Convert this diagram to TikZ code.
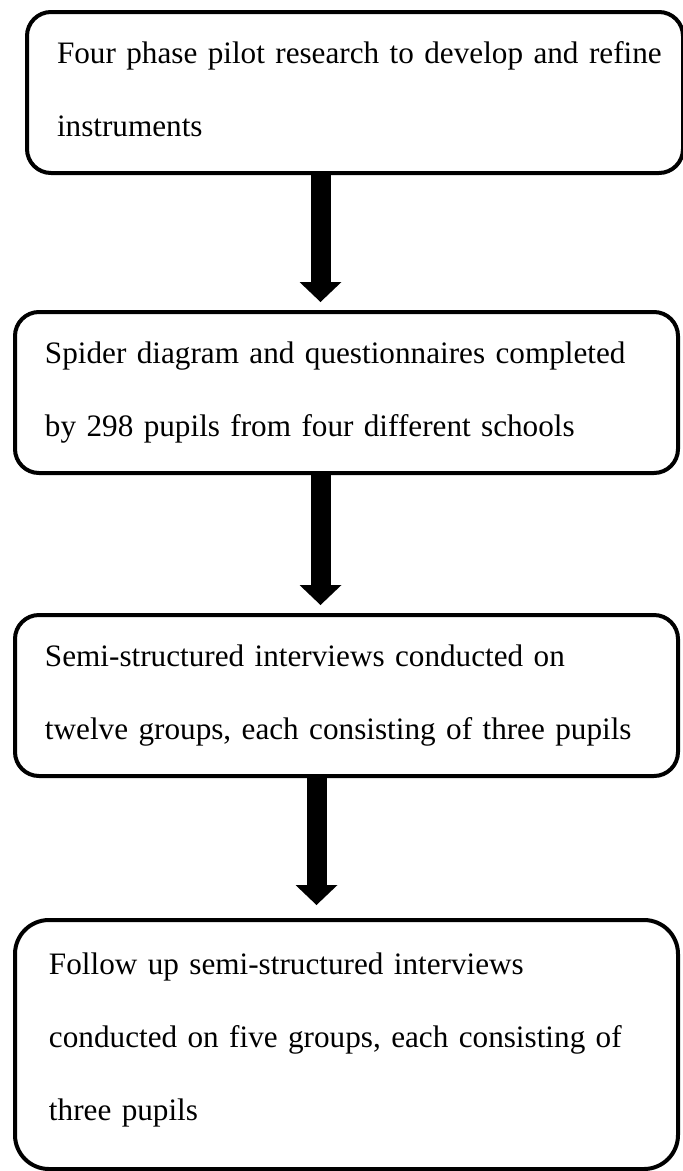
\documentclass[tikz,border=0pt]{standalone}
\usepackage{fontspec}
\setmainfont{Liberation Serif}
\usepackage{tikz}
\usetikzlibrary{arrows.meta}
\newcommand{\stepfont}{\fontsize{31.2}{73}\selectfont}

\begin{document}
\begin{tikzpicture}[x=1pt, y=-1pt,
    every node/.style={font=\stepfont},
    stepbox/.style={draw, line width=4pt, rounded corners=24pt,
                    align=left, inner ysep=0pt, inner xsep=8pt,
                    text width=647pt, text height=22pt, text depth=81pt,
                    execute at begin node={\leftskip=22pt},
                    minimum width=663pt, minimum height=161pt},
    lastbox/.style={stepbox, rounded corners=34pt,
                    execute at begin node={\leftskip=26pt},
                    text depth=162pt, minimum height=249pt},
    arr/.style={-{Triangle[width=42pt, length=20pt, line width=0pt]},
                line width=20pt, shorten >=8pt}]
  \useasboundingbox (0,0) rectangle (683,1171);
  \node[stepbox, minimum width=656pt, text width=640pt]
       (s1) at (355,92.5)   {Four phase pilot research to develop and refine\\instruments};
  \node[stepbox]
       (s2) at (346.5,392.5) {Spider diagram and questionnaires completed\\by 298 pupils from four different schools};
  \node[stepbox]
       (s3) at (346.5,695.5) {Semi-structured interviews conducted on\\twelve groups, each consisting of three pupils};
  \node[lastbox]
       (s4) at (346.5,1044.5) {Follow up semi-structured interviews\\conducted on five groups, each consisting of\\three pupils};
  % arrow columns
  \coordinate (c1) at (320.5,0);
  \coordinate (c3) at (316.5,0);
  \draw[arr] (s1.south -| c1) -- (s2.north -| c1);
  \draw[arr] (s2.south -| c1) -- (s3.north -| c1);
  \draw[arr, shorten >=13pt] (s3.south -| c3) -- (s4.north -| c3);
\end{tikzpicture}
\end{document}
